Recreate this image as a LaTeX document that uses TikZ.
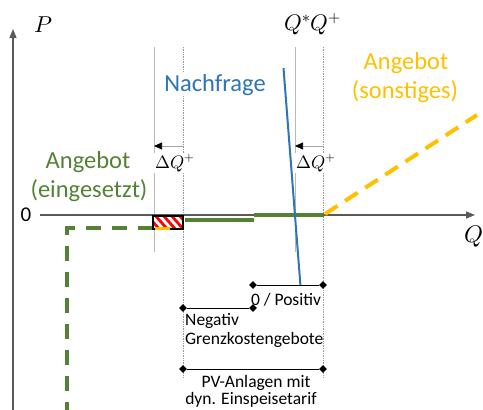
\documentclass[tikz,border=0pt]{standalone}
\usepackage{fontspec}
\usepackage{unicode-math}
\setmainfont{Carlito}
\setmathfont{Latin Modern Math}
\usetikzlibrary{arrows.meta,shapes.geometric}
\definecolor{grn}{HTML}{548235}
\definecolor{org}{HTML}{FFC000}
\definecolor{blu}{HTML}{2E75B6}
\definecolor{axg}{HTML}{595959}
\tikzset{
  axis/.style={draw=axg,line width=1.3pt,-{Triangle[length=9pt,width=7pt]}},
  guidesolid/.style={draw=gray!55,line width=0.7pt},
  guidedot/.style={draw=gray!80,line width=0.7pt,densely dotted},
  dq/.style={draw=gray!70,line width=0.7pt,-{Triangle[length=8pt,width=7pt,fill=black,color=black]}},
  dim/.style={draw=black,line width=0.9pt},
  dmd/.style={diamond,fill=black,inner sep=0pt,minimum size=8pt},
  bigtxt/.style={font=\fontsize{24.5}{29}\selectfont,inner sep=0pt,anchor=base},
  smalltxt/.style={font=\fontsize{17.5}{20}\selectfont,inner sep=0pt,anchor=base},
  mathlbl/.style={font=\fontsize{18}{20}\selectfont,inner sep=1pt},
  thickgreen/.style={draw=grn,line width=4pt},
}
\begin{document}
\begin{tikzpicture}[x=1pt,y=-1pt]
\useasboundingbox (0,0) rectangle (483,410);
% guide lines
\coordinate (g1t) at (154,47); \coordinate (g1b) at (154,252);
\coordinate (g2t) at (183,47); \coordinate (g2b) at (183,378);
\coordinate (g3t) at (295,47); \coordinate (g3b) at (295,252);
\coordinate (g4t) at (323,47); \coordinate (g4b) at (323,378);
\draw[guidesolid] (g1t) -- (g1b);
\draw[guidedot] (g2t) -- (g2b);
\draw[guidesolid] (g3t) -- (g3b);
\draw[guidedot] (g4t) -- (g4b);
% delta Q arrows
\coordinate (a1s) at (183,146); \coordinate (a1e) at (154,146);
\coordinate (a2s) at (323,146); \coordinate (a2e) at (295,146);
\draw[dq] (a1s) -- (a1e);
\draw[dq] (a2s) -- (a2e);
\node[mathlbl,fill=white] (dq1) at (175,163) {$\Delta Q^{+}$};
\node[mathlbl,fill=white] (dq2) at (316,163) {$\Delta Q^{+}$};
% axes
\coordinate (yb) at (13,410); \coordinate (yt) at (13,29);
\coordinate (xl) at (40,215); \coordinate (xr) at (475,215);
\draw[axis] (yb) -- (yt);
\draw[axis] (xl) -- (xr);
\node[mathlbl,font=\fontsize{23}{25}\selectfont] (P) at (43,25) {$P$};
\node[mathlbl,font=\fontsize{24}{26}\selectfont,inner sep=0pt] (Q) at (474,236) {$Q$};
\node[font=\fontsize{21}{23}\selectfont,inner sep=0pt] (zero) at (26,215) {0};
\node[mathlbl,font=\fontsize{22.5}{25}\selectfont] (QQ) at (313,24) {$Q^{*}Q^{+}$};
% green dashed supply
\coordinate (gd1) at (153,228); \coordinate (gd2) at (67,228); \coordinate (gd3) at (67,412);
\draw[draw=grn,line width=4pt,dash pattern=on 15pt off 11pt] (gd1) -- (gd2) -- (gd3);
% hatched box
\coordinate (hb1) at (153,216); \coordinate (hb2) at (183,229);
\begin{scope}
\clip (hb1) rectangle (hb2);
\fill[white] (hb1) rectangle (hb2);
\foreach \i in {130,138,...,190} {\draw[red,line width=2.8pt] (\i,214) -- (\i+15,231);}
\end{scope}
\draw[black,line width=1.2pt] (hb1) rectangle (hb2);
\coordinate (os1) at (155,228.5); \coordinate (os2) at (170,228.5);
\draw[org,line width=3pt] (os1) -- (os2);
% green solid supply
\coordinate (gs1) at (185,219.5); \coordinate (gs2) at (254,219.5);
\coordinate (gs3) at (254,214.5); \coordinate (gs4) at (324,214.5);
\draw[thickgreen] (gs1) -- (gs2);
\draw[thickgreen] (gs3) -- (gs4);
% orange dashed supply
\coordinate (od1) at (325,214); \coordinate (od2) at (477,115);
\draw[draw=org,line width=4pt,dash pattern=on 15pt off 9pt] (od1) -- (od2);
% demand
\coordinate (d1) at (283.5,68); \coordinate (d2) at (300.5,286);
\draw[draw=blu,line width=2pt] (d1) -- (d2);
% dimension lines
\node[dmd] (m1) at (253,285) {}; \node[dmd] (m2) at (323,285) {};
\node[dmd] (m3) at (183,308) {}; \node[dmd] (m4) at (253,308) {};
\node[dmd] (m5) at (183,369) {}; \node[dmd] (m6) at (323,369) {};
\draw[dim] (m1) -- (m2);
\draw[dim] (m3) -- (m4);
\draw[dim] (m5) -- (m6);
% texts
\node[smalltxt] (pos) at (286,305) {0 / Positiv};
\node[smalltxt,anchor=base west] (neg1) at (185,325) {Negativ};
\node[smalltxt,anchor=base west] (neg2) at (185,344) {Grenzkostengebote};
\node[smalltxt] (pv1) at (256,387) {PV-Anlagen mit};
\node[smalltxt] (pv2) at (251,404) {dyn. Einspeisetarif};
\node[bigtxt,text=blu,fill=white,inner sep=1pt] (nf) at (215,91) {Nachfrage};
\node[bigtxt,text=org] (as1) at (406,69) {Angebot};
\node[bigtxt,text=org] (as2) at (405,98) {(sonstiges)};
\node[bigtxt,text=grn] (ae1) at (88,168) {Angebot};
\node[bigtxt,text=grn] (ae2) at (89,197) {(eingesetzt)};
\end{tikzpicture}
\end{document}
